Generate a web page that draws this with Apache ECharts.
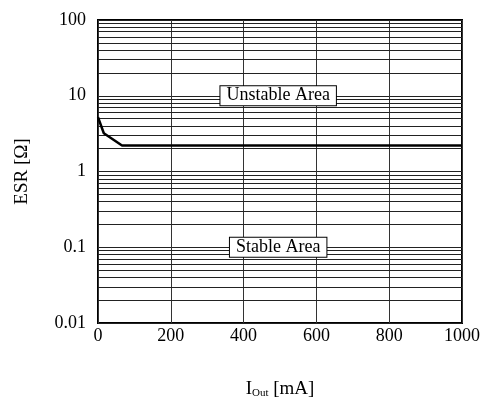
<!DOCTYPE html>
<html><head><meta charset="utf-8">
<script src="https://cdn.jsdelivr.net/npm/echarts@6/dist/echarts.min.js"></script>
<style>html,body{margin:0;padding:0;background:#fff}#c{width:481px;height:399px}</style>
</head><body><div id="c"></div>
<script>
var currentMA = [0, 16, 66, 1000];
var esrOhm = [5.2, 3.2, 2.2, 2.2];
var xTicks = [0, 200, 400, 600, 800, 1000];
var yTicks = [0.01, 0.1, 1, 10, 100];
var decades = [0.01, 0.1, 1, 10];
var minorMult = [2, 3, 4, 5, 6, 7, 8, 9];
var areaLabels = ['Unstable Area', 'Stable Area'];
var areaX = [495, 495];
var areaY = [10, 0.1];

var minorLines = [];
decades.forEach(function(d){ minorMult.forEach(function(m){ minorLines.push({yAxis: d*m}); }); });

var F = 'Liberation Serif, Times New Roman, serif';
var chart = echarts.init(document.getElementById('c'));
chart.setOption({
  animation: false,
  grid: {left: 98, right: 19, top: 20, bottom: 76, show: true, borderColor: '#000', borderWidth: 2,
    backgroundColor: 'transparent', containLabel: false, outerBoundsMode: 'none'},
  xAxis: {
    type: 'value', min: xTicks[0], max: xTicks[xTicks.length-1], interval: 200,
    axisLine: {show: false}, axisTick: {show: false},
    axisLabel: {fontFamily: F, fontSize: 18, color: '#000', margin: 4, formatter: function(v){ return String(v); }},
    splitLine: {show: true, lineStyle: {color: '#333', width: 1}},
    name: '{i|I}{s|Out}{i| [mA]}', nameLocation: 'middle', nameGap: 56,
    nameTextStyle: {rich: {i: {fontFamily: F, fontSize: 19, color: '#000'}, s: {fontFamily: F, fontSize: 11, color: '#000', padding: [9,0,0,0]}}}
  },
  yAxis: {
    type: 'log', logBase: 10, min: yTicks[0], max: yTicks[yTicks.length-1],
    axisLine: {show: false}, axisTick: {show: false},
    axisLabel: {fontFamily: F, fontSize: 18, color: '#000', margin: 12, formatter: function(v){ return String(+v.toPrecision(3)); }},
    splitLine: {show: true, lineStyle: {color: '#222', width: 1}},
    name: 'ESR [Ω]', nameLocation: 'middle', nameGap: 66, nameRotate: 90,
    nameTextStyle: {fontFamily: F, fontSize: 19, color: '#000'}
  },
  series: [
    {
      type: 'line', data: currentMA.map(function(x,i){ return [x, esrOhm[i]]; }),
      symbol: 'none', lineStyle: {color: '#000', width: 2.5}, z: 5,
      markLine: {silent: true, symbol: 'none', label: {show: false}, animation: false,
        lineStyle: {color: '#222', width: 1, type: 'solid'}, data: minorLines}
    },
    {
      type: 'scatter', symbolSize: 0, z: 10, itemStyle: {opacity: 1},
      data: areaLabels.map(function(t,i){ return {value: [areaX[i], areaY[i]], name: t}; }),
      label: {show: true, position: 'inside', formatter: '{b}', fontFamily: F, fontSize: 18, color: '#000', opacity: 1,
        backgroundColor: '#fff', borderColor: '#000', borderWidth: 1, padding: [1, 6, 0, 6]}
    }
  ]
});
</script></body></html>
